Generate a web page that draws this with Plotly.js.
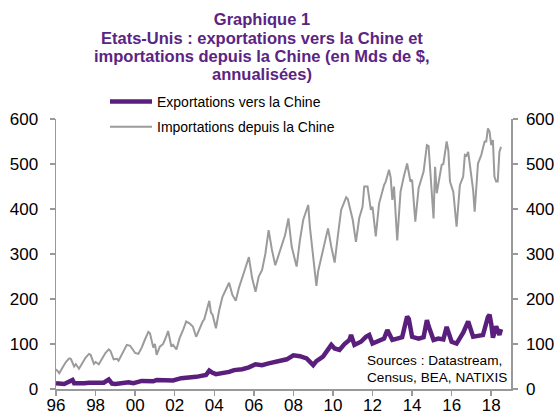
<!DOCTYPE html>
<html>
<head>
<meta charset="utf-8">
<script src="https://cdn.plot.ly/plotly-3.0.1.min.js"></script>
<style>html,body{margin:0;padding:0;background:#fff;}#chart{width:555px;height:416px;}</style>
</head>
<body>
<div id="chart"></div>
<script>
// Importations depuis la Chine (Mds $, annualisées)
var impDates = ['1996-01','1996-03','1996-05','1996-07','1996-09','1996-10','1996-12',
'1997-01','1997-03','1997-05','1997-07','1997-09','1997-10','1997-12',
'1998-01','1998-03','1998-05','1998-07','1998-09','1998-10','1998-12',
'1999-02','1999-03','1999-05','1999-07','1999-08','1999-10',
'2000-01','2000-03','2000-05','2000-07','2000-09','2000-10','2000-12',
'2001-01','2001-02','2001-04','2001-06','2001-08','2001-09','2001-11','2001-12',
'2002-02','2002-04','2002-06','2002-08','2002-10','2002-12',
'2003-02','2003-04','2003-06','2003-07','2003-09','2003-10','2003-11','2003-12',
'2004-02','2004-04','2004-06','2004-08','2004-10','2004-12',
'2005-02','2005-04','2005-06','2005-08','2005-10','2005-12',
'2006-02','2006-04','2006-06','2006-08','2006-10','2006-12',
'2007-02','2007-04','2007-06','2007-08','2007-10','2007-12',
'2008-03','2008-05','2008-07','2008-10','2008-11',
'2009-01','2009-03','2009-04','2009-07','2009-10','2009-12',
'2010-02','2010-04','2010-06','2010-09','2010-10',
'2011-01','2011-03','2011-05','2011-07','2011-08','2011-10','2011-12',
'2012-01','2012-03','2012-05','2012-08','2012-09','2012-11','2012-12',
'2013-01','2013-02','2013-04','2013-06','2013-08','2013-10','2013-12',
'2014-01','2014-03','2014-05','2014-08','2014-10','2014-11','2014-12',
'2015-02','2015-03','2015-04','2015-07','2015-08','2015-10','2015-11','2015-12',
'2016-02','2016-04','2016-06','2016-08','2016-09','2016-10','2016-11','2016-12',
'2017-01','2017-02','2017-03','2017-05','2017-07','2017-09','2017-10','2017-11','2017-12',
'2018-01','2018-02','2018-03','2018-04','2018-05','2018-06','2018-07'];
var impValues = [44,35,48,60,68,67,50,
55,45,58,70,78,76,56,
60,55,68,80,88,85,66,
67,63,78,92,98,96,
80,78,92,110,127,124,92,
100,76,94,100,118,129,94,98,
88,113,130,150,146,139,
116,135,150,155,180,196,170,165,
135,175,205,220,236,209,
196,225,250,270,293,246,
216,250,264,300,353,309,
275,298,320,342,379,316,
272,331,376,409,360,
298,229,261,309,357,316,
281,340,398,426,422,
376,327,380,405,450,450,398,
405,339,412,453,461,487,470,
420,450,330,438,472,501,461,
465,372,446,483,542,540,483,
379,494,435,498,500,550,530,461,
438,361,453,472,520,518,527,500,
476,442,394,501,520,550,550,579,572,
542,553,472,461,461,527,538];

// Exportations vers la Chine (Mds $, annualisées)
var expDates = ['1996-01','1996-06','1996-11','1996-12','1997-06','1997-09',
'1998-06','1998-09','1998-11','1999-01','1999-09','1999-12',
'2000-05','2000-12','2001-02','2001-09','2001-12','2002-05','2002-12',
'2003-02','2003-08','2003-10','2003-12','2004-02','2004-10',
'2005-01','2005-06','2005-10','2006-02','2006-06','2006-10',
'2007-02','2007-05','2007-09','2008-01','2008-05','2008-09',
'2009-01','2009-03','2009-07','2009-12','2010-02','2010-05','2010-08','2010-11','2010-12',
'2011-02','2011-06','2011-09','2011-11','2012-01','2012-05','2012-08','2012-10',
'2013-01','2013-04','2013-07','2013-10','2013-11','2014-01','2014-05','2014-08','2014-10','2014-11',
'2015-02','2015-05','2015-08','2015-10','2015-12','2016-01','2016-04','2016-08','2016-11',
'2017-01','2017-02','2017-05','2017-08','2017-11','2017-12',
'2018-01','2018-02','2018-03','2018-04','2018-05','2018-06','2018-07'];
var expValues = [13,11,20,13,13,14,
14,21,12,11,15,13,
18,17,20,20,19,24,25,
27,31,41,36,33,38,
42,44,48,55,53,57,
61,64,66,75,73,68,
53,62,72,98,90,87,100,109,120,
98,105,116,120,101,108,112,131,
109,112,115,161,156,116,112,115,153,140,
109,112,110,138,110,105,101,125,150,
130,116,118,120,160,165,
145,114,125,139,130,120,133];

var seriesNames = ['Exportations vers la Chine','Importations depuis la Chine'];
var yTicks = [0,100,200,300,400,500,600];
var xTicks = ['1996-01-01','1998-01-01','2000-01-01','2002-01-01','2004-01-01','2006-01-01',
              '2008-01-01','2010-01-01','2012-01-01','2014-01-01','2016-01-01','2018-01-01'];
var titleLines = ['Graphique 1',
  'Etats-Unis : exportations vers la Chine et',
  'importations depuis la Chine (en Mds de $,',
  'annualisées)'];
var sourceLines = ['Sources : Datastream,', 'Census, BEA, NATIXIS'];

var FONT = 'Liberation Sans, Arial, sans-serif';
var PURPLE = '#5b2483';

var traces = [
  {x: expDates, y: expValues, type: 'scatter', mode: 'lines', name: seriesNames[0],
   line: {color: '#5a1f7c', width: 4.5}, legendgroup: 'a', yaxis: 'y2'},
  {x: impDates, y: impValues, type: 'scatter', mode: 'lines', name: seriesNames[1],
   line: {color: '#9b9b9b', width: 2}, legendgroup: 'b', yaxis: 'y'}
];

var axisCommon = {
  range: [0, 600], tickvals: yTicks, showgrid: false, zeroline: false,
  showline: true, linecolor: '#999999', linewidth: 1.5,
  ticks: 'outside', ticklen: 5, tickcolor: '#999999', tickwidth: 1.5,
  tickfont: {family: FONT, size: 17, color: '#000'}, fixedrange: true
};

function titleAnn(text, yPx) {
  return {text: '<b>' + text + '</b>', xref: 'paper', yref: 'paper', x: (262-56)/455, y: (389 - yPx)/270,
          xanchor: 'center', yanchor: 'middle', showarrow: false, font: {family: FONT, size: 16.5, color: PURPLE}};
}
function srcAnn(text, yPx) {
  return {text: text, xref: 'paper', yref: 'paper', x: (365-56)/455, y: (389 - yPx)/270,
          xanchor: 'left', yanchor: 'middle', align: 'left', showarrow: false,
          font: {family: FONT, size: 13.6, color: '#000'}};
}

var layout = {
  width: 555, height: 416,
  margin: {l: 56, r: 44, t: 119, b: 27, autoexpand: false},
  paper_bgcolor: '#fff', plot_bgcolor: '#fff',
  font: {family: FONT},
  title: {text: '<b>' + titleLines[0] + '</b>', x: 262/555, xanchor: 'center',
          y: 1 - 19/416, yanchor: 'middle', yref: 'container',
          font: {family: FONT, size: 16.5, color: PURPLE}},
  xaxis: {type: 'date', range: ['1996-01-01', '2019-01-01'],
          tickvals: xTicks, tickformat: '%y', showgrid: false, zeroline: false,
          showline: true, linecolor: '#999999', linewidth: 1.5,
          ticks: 'outside', ticklen: 5, tickcolor: '#999999', tickwidth: 1.5,
          ticklabelstandoff: -5,
          tickfont: {family: FONT, size: 17, color: '#000'}, fixedrange: true},
  yaxis: Object.assign({}, axisCommon, {side: 'left', ticklabelstandoff: 8}),
  yaxis2: Object.assign({}, axisCommon, {side: 'right', overlaying: 'y', anchor: 'x', ticklabelstandoff: 5}),
  showlegend: true,
  legend: {x: (105 - 56)/455, xanchor: 'left', y: (389 - 86)/270, yanchor: 'top',
           bgcolor: 'rgba(0,0,0,0)', borderwidth: 0, itemwidth: 42,
           traceorder: 'grouped', tracegroupgap: 4,
           font: {family: FONT, size: 14, color: '#000'}},
  annotations: [
    titleAnn(titleLines[1], 38),
    titleAnn(titleLines[2], 55.7),
    titleAnn(titleLines[3], 73.5),
    srcAnn(sourceLines[0], 360),
    srcAnn(sourceLines[1], 377)
  ]
};

Plotly.newPlot('chart', traces, layout, {staticPlot: true, displayModeBar: false});
</script>
</body>
</html>
